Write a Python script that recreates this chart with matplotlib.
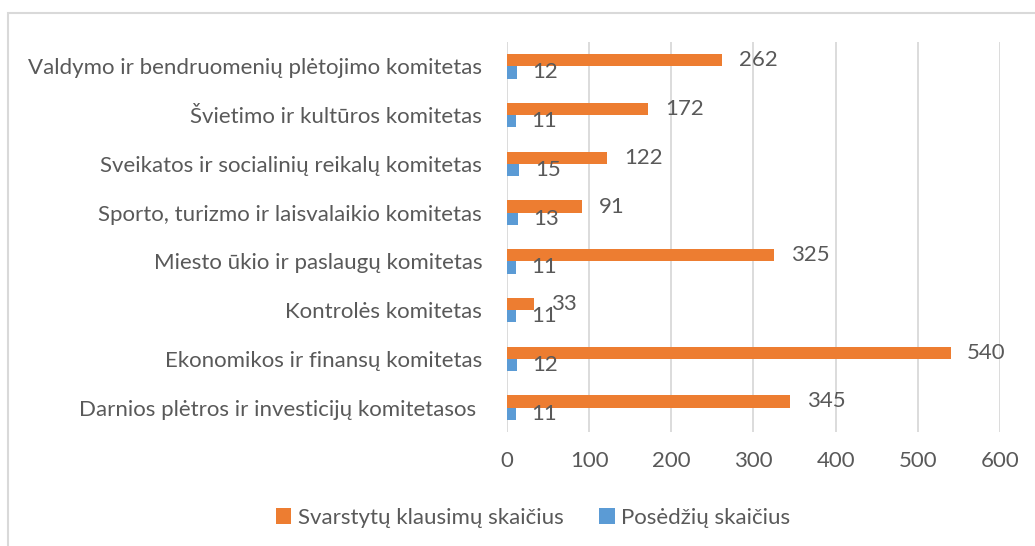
import matplotlib.pyplot as plt
import numpy as np
from matplotlib.patches import Rectangle

plt.rcParams['font.family'] = ['Lato', 'DejaVu Sans']

# duomenys (iš viršaus į apačią)
komitetai = [
    "Valdymo ir bendruomenių plėtojimo komitetas",
    "Švietimo ir kultūros komitetas",
    "Sveikatos ir socialinių reikalų komitetas",
    "Sporto, turizmo ir laisvalaikio komitetas",
    "Miesto ūkio ir paslaugų komitetas",
    "Kontrolės komitetas",
    "Ekonomikos ir finansų komitetas",
    "Darnios plėtros ir investicijų komitetasos ",
]
klausimai = [262, 172, 122, 91, 325, 33, 540, 345]
posedziai = [12, 11, 15, 13, 11, 11, 12, 11]

orange = "#ED7D31"
blue = "#5B9BD5"
txt = "#595959"
fs = 16

fig = plt.figure(figsize=(10.35, 5.46), dpi=100)
ax = fig.add_axes([0.490, 0.209, 0.476, 0.714])

# rėmelis aplink grafiką
fig.patches.append(Rectangle((8 / 1035, -0.05), 1.2, 1 - 13 / 546 + 0.05,
                             transform=fig.transFigure, fill=False,
                             edgecolor="#d9d9d9", linewidth=1.5))

y = np.arange(len(komitetai))[::-1]
h = 0.25
b1 = ax.barh(y + h / 2, klausimai, height=h, color=orange, label="Svarstytų klausimų skaičius")
b2 = ax.barh(y - h / 2, posedziai, height=h, color=blue, label="Posėdžių skaičius")
ax.bar_label(b1, padding=12, fontsize=fs, color=txt)
ax.bar_label(b2, padding=11, fontsize=fs, color=txt)

ax.set_xlim(0, 600)
ax.set_ylim(-0.5, 7.5)
ax.set_xticks(range(0, 601, 100))
ax.set_yticks(y)
ax.set_yticklabels(komitetai)
ax.tick_params(length=0, labelsize=fs, colors=txt)
ax.tick_params(axis='y', pad=18)
ax.tick_params(axis='x', pad=14)
ax.grid(axis='x', color="#d9d9d9", linewidth=1.3)
ax.set_axisbelow(True)
for s in ax.spines.values():
    s.set_visible(False)

fig.legend(handles=[b1, b2], loc="center", bbox_to_anchor=(0.515, 0.052), ncol=2,
           frameon=False, fontsize=fs, labelcolor=txt, handlelength=0.7,
           handleheight=0.7, handletextpad=0.3, columnspacing=1.6)

fig.savefig("out.png", dpi=100)
